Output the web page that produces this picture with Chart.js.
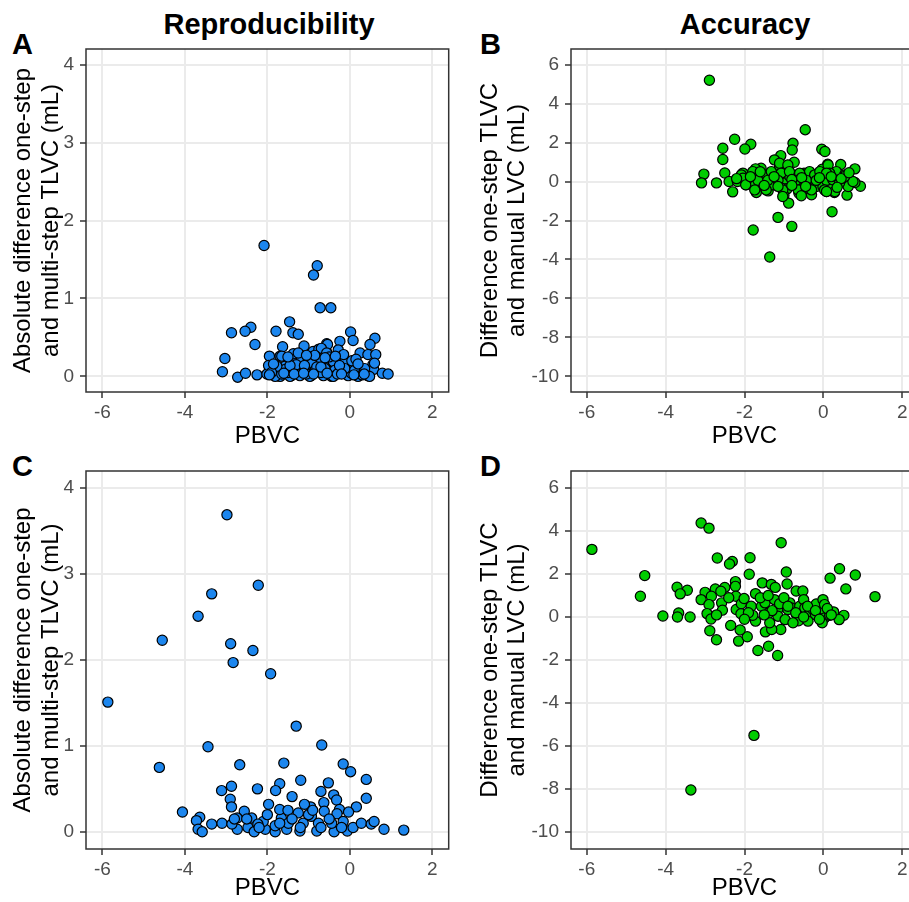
<!DOCTYPE html>
<html>
<head>
<meta charset="utf-8">
<script src="https://cdn.jsdelivr.net/npm/chart.js@4.4.0/dist/chart.umd.min.js"></script>
<style>
  html, body { margin: 0; padding: 0; background: #fff; overflow: hidden; width: 909px; height: 902px; }
  body { position: relative; font-family: "Liberation Sans", Arial, Helvetica, sans-serif; }
  canvas { position: absolute; }
  .lbl { position: absolute; font-weight: bold; font-size: 29px; line-height: 29px; color: #000; }
  .col { position: absolute; font-weight: bold; font-size: 29px; line-height: 29px; width: 300px; text-align: center; color: #000; }
</style>
</head>
<body>
<div class="col" style="left:119px; top:10px">Reproducibility</div>
<div class="col" style="left:595px; top:10px">Accuracy</div>
<div class="lbl" style="left:12px; top:30px">A</div>
<div class="lbl" style="left:480px; top:30px">B</div>
<div class="lbl" style="left:12px; top:452px">C</div>
<div class="lbl" style="left:480px; top:452px">D</div>

<canvas id="chartA" width="455" height="450" style="left:0px; top:0px"></canvas>
<canvas id="chartB" width="470" height="450" style="left:455px; top:0px"></canvas>
<canvas id="chartC" width="455" height="452" style="left:0px; top:450px"></canvas>
<canvas id="chartD" width="470" height="452" style="left:455px; top:450px"></canvas>

<script>
// shared axis stuff
const xTicks = [-6, -4, -2, 0, 2];
const absTicks = [0, 1, 2, 3, 4];
const diffTicks = [-10, -8, -6, -4, -2, 0, 2, 4, 6];
const xTitle = "PBVC";
const absTitle = ["Absolute difference one-step", "and multi-step TLVC (mL)"];
const diffTitle = ["Difference one-step TLVC", "and manual LVC (mL)"];

// A - reproducibility (top)
const aX = [-2.08, -0.79, -0.88, -0.72, -0.46, -1.46, -1.38, -1.25, -1.79, -2.40, -2.54, -2.87, -2.30, -3.03, -3.09,
  -2.72, -2.53, -2.25, -2.01, 0.02, 0.08, -0.24, -0.28, 0.61, 0.49, 0.25, 0.44, 0.63, 0.56, 0.58, 0.79, 0.93,
  -1.63, -1.11, -0.89, -0.75, -0.56, -0.56, -1.95, -1.69, -1.41, -1.97, -1.57, -1.18, -1.01, -0.80, -0.64, -0.44,
  -0.12, 0.12, 0.28, -1.73, -1.42, -1.21, -0.94, -0.64, -0.44, -0.04, 0.44, -1.17, -0.97, -0.20, 0.04,
  -0.54, -0.69, -1.37, -0.56, -0.40, 0.60, -1.65, -1.17, -0.93, -0.69,
  -1.57, -1.33, -1.09, -0.84, -0.60, -0.36, -0.12, 0.12, 0.36,
  -1.69, -1.45, -0.97, -0.40, 0.20, 0.48, -1.81, -1.65, -1.77,
  -1.90, -1.30, -1.05, -0.80, -0.30, 0.30, -0.50, -0.85, -1.25, -0.15, 0.05, 0.15, -1.50, -0.70,
  -1.85, -1.45, -1.10, -0.70, -0.25, 0.20, -1.95, -1.60, -1.35, -1.12, -0.88, -0.55, -0.20, 0.10, 0.35,
  -1.50, -1.05, -0.60, -0.35];
const aY = [1.68, 1.42, 1.30, 0.88, 0.88, 0.70, 0.56, 0.54, 0.58, 0.63, 0.58, 0.56, 0.41, 0.23, 0.06,
  -0.01, 0.04, 0.02, 0.03, 0.57, 0.46, 0.45, 0.34, 0.49, 0.41, 0.30, 0.28, 0.28, 0.15, 0.09, 0.04, 0.03,
  0.38, 0.39, 0.32, 0.35, 0.31, 0.42, 0.26, 0.26, 0.21, 0.14, 0.13, 0.17, 0.19, 0.21, 0.15, 0.19,
  0.19, 0.13, 0.06, 0.01, 0.01, 0.01, 0.01, 0.01, 0.00, 0.01, 0.01, 0.09, 0.06, 0.09, 0.04,
  0.41, 0.36, 0.29, 0.30, 0.19, 0.17, 0.26, 0.24, 0.17, 0.21,
  0.09, 0.08, 0.10, 0.08, 0.10, 0.08, 0.10, 0.08, 0.10,
  0.00, 0.00, 0.00, 0.00, 0.00, 0.00, 0.00, 0.03, 0.13,
  0.05, 0.15, 0.03, 0.12, 0.03, 0.02, 0.25, 0.27, 0.30, 0.28, 0.20, 0.22, 0.05, 0.05,
  0.16, 0.14, 0.14, 0.12, 0.14, 0.16, 0.02, 0.04, 0.03, 0.04, 0.03, 0.04, 0.03, 0.02, 0.03,
  0.25, 0.27, 0.24, 0.26];

// B - accuracy (top)
const bX = [-2.89, -0.46, -2.25, -1.84, -1.99, -2.55, -2.55, -0.77, -0.79, -0.04, 0.04, -1.08, -1.24, -0.74, -0.91,
  0.11, 0.44, 0.80, -0.03, -1.58, -1.72, -3.03, -3.09, -2.71, -2.50, -2.39, -2.30, -2.06, -2.02, -1.96, -1.74,
  -1.70, -1.40, -1.36, -1.17, -0.97, -0.92, -1.00, -0.88, -0.62, -0.30, 0.60, 0.28, 0.08, 0.22, -1.15, -1.78,
  -0.80, -1.36, 0.94, 0.80, 0.50, 0.29, -0.20, -0.49, -0.35, -0.63, -0.71, -0.47, -0.60, -0.22, 0.08, 0.33,
  0.54, 0.04, 0.31, -1.53, -1.32, -1.02, -1.66, -0.85, -1.11, -1.28, -0.39, -0.18, -0.01, 0.16, 0.63,
  -1.11, -0.90, 0.12, -2.04, -1.79, -1.53, -1.32, -1.07, -0.86, -0.60, -0.09, 0.16,
  -1.95, -1.66, -1.41, -1.15, -0.69, -0.43, -0.18, 0.08, 0.33,
  -1.74, -1.45, -1.03, -0.64, -0.30, 0.03, -1.03, -0.56,
  0.75, 0.24, 0.08, 0.54, 0.41, 0.29, 0.08, -2.18, -2.08, -2.04, -1.97,
  -1.85, -1.25, -0.80, -0.55, -0.10, 0.20, 0.45, 0.65, -1.50, -1.15, -0.80, -0.45, 0.35, -2.20, -1.60];
const bY = [5.20, 2.66, 2.17, 1.91, 1.67, 1.71, 1.13, 1.96, 1.62, 1.66, 1.54, 1.33, 1.11, 0.99, 0.82,
  0.89, 0.87, 0.65, 0.63, 0.68, 0.65, 0.38, -0.07, -0.07, 0.44, 0.00, -0.53, 0.31, 0.09, -0.17, -0.14,
  -0.56, -0.48, 0.38, 0.03, 0.14, -0.38, -0.72, -1.11, -0.60, -0.68, -0.70, -0.56, -0.51, -1.55, -1.84, -2.49,
  -2.30, -3.87, -0.24, -0.05, 0.00, 0.09, 0.09, 0.43, 0.51, 0.00, -0.17, -0.09, 0.34, 0.34, 0.34, 0.51,
  0.34, 0.00, 0.05, 0.09, 0.00, 0.43, 0.26, 0.26, 0.77, -0.17, -0.34, -0.26, -0.26, -0.17, -0.26,
  0.94, 0.85, 0.85, 0.43, 0.51, 0.34, 0.51, 0.43, 0.51, 0.43, 0.51, 0.43,
  0.06, 0.06, 0.06, 0.06, 0.06, 0.06, 0.06, 0.06, 0.06,
  -0.43, -0.43, -0.43, -0.43, -0.43, -0.43, -0.77, -0.73,
  0.00, 0.09, 0.43, 0.26, -0.08, -0.51, -0.51, 0.00, 0.34, 0.17, -0.17,
  0.25, 0.25, 0.10, 0.20, 0.20, 0.25, 0.15, 0.45, -0.20, -0.25, -0.20, -0.25, -0.30, 0.15, 0.50];

// C - reproducibility (bottom)
const cX = [-2.98, -2.22, -3.35, -3.68, -4.55, -2.89, -2.35, -2.83, -1.92, -5.87, -1.30, -3.44, -0.68, -4.62, -2.67,
  -1.60, -0.16, 0.02, -1.19, 0.40, -0.52, -1.70, -2.87, -2.24, -3.11, -1.80, -0.70, -1.40, -0.39, -0.32, 0.40,
  -2.90, -0.63, -1.97, -2.87, 0.16, -0.95, -1.10, -4.06, -3.64, -3.72, -2.56, -0.62, -0.25, -0.03, -0.31,
  -3.35, -3.10, -3.68, -3.58, -2.73, -2.47, -2.32, -2.05, -1.81, -1.53, -1.21, -0.80, -0.38, -0.06, 0.08,
  0.28, 0.52, 0.59, 0.83, 1.31, -2.73, -2.38, -2.10, -1.66, -1.70, -1.25, -0.93, -1.49, -1.13, -0.76,
  -0.44, -0.16, -1.81, -2.86, -2.23,
  -2.50, -2.00, -1.50, -1.00, -0.50, -2.20, -1.70, -1.20, -0.70, -0.20, -2.80, -1.40, -0.90];
const cY = [3.69, 2.87, 2.77, 2.51, 2.23, 2.19, 2.11, 1.97, 1.84, 1.51, 1.23, 0.99, 1.01, 0.75, 0.78,
  0.80, 0.79, 0.70, 0.60, 0.61, 0.57, 0.56, 0.53, 0.50, 0.48, 0.48, 0.47, 0.41, 0.43, 0.37, 0.39,
  0.38, 0.34, 0.32, 0.29, 0.29, 0.29, 0.32, 0.23, 0.17, 0.13, 0.24, 0.24, 0.26, 0.23, 0.21,
  0.09, 0.10, 0.03, 0.00, 0.03, 0.05, 0.00, 0.03, 0.00, 0.03, 0.01, 0.01, 0.00, 0.01, 0.05,
  0.10, 0.09, 0.12, 0.03, 0.02, 0.16, 0.16, 0.12, 0.16, 0.26, 0.22, 0.18, 0.10, 0.10, 0.10,
  0.10, 0.12, 0.07, 0.09, 0.09,
  0.15, 0.20, 0.25, 0.20, 0.15, 0.05, 0.10, 0.05, 0.05, 0.05, 0.15, 0.15, 0.25];

// D - accuracy (bottom)
const dX = [-5.87, -3.10, -2.90, -1.07, -2.69, -1.86, -2.31, -2.38, -4.53, -1.88, -0.94, 0.41, 0.81, 0.17, -4.64,
  1.31, 0.57, -4.07, -3.71, -3.45, -3.63, -3.67, -3.70, -3.38, -1.76, -3.36, -1.66, -1.39, -1.16, -2.15,
  -1.93, -2.11, -2.71, -2.88, -2.35, -1.47, -1.08, -1.31, -0.92, -1.55, -1.32, -1.22, -0.69, -0.52, -2.23,
  -2.23, -2.50, -2.74, -3.00, -3.10, -2.84, -2.90, -2.95, -2.85, -2.58, -2.56, -2.71, -2.22, -2.21, -2.08,
  -2.09, -2.01, -1.83, -1.72, -1.72, -1.79, -1.57, -1.48, -1.38, -1.24, -1.16, -1.11, -1.15, -0.97, -0.85,
  -0.81, -0.69, -0.60, -0.50, -0.47, -0.63, -0.38, -0.26, -0.18, -0.01, 0.03, -0.03, 0.03, -0.03, 0.26,
  0.52, 0.40, 0.16, -0.20, -0.90, -1.36, -0.77, -0.39,
  -1.60, -1.30, -1.00, -0.70, -0.40, -0.20, 0.10, -1.90, -2.40, -2.60, -1.40, -0.90, -0.50, -0.10, 0.20, -2.00, -1.50];
const dY = [3.15, 4.38, 4.14, 3.46, 2.75, 2.76, 2.59, 2.47, 1.93, 1.99, 2.10, 2.25, 1.96, 1.81, 0.97,
  0.95, 1.31, 0.05, 1.39, 1.25, 1.08, 0.19, 0.00, 0.00, -5.51, -8.05, -1.56, -1.36, -1.79, -1.12,
  -0.92, -0.60, -1.06, -0.64, -0.39, -0.69, -0.58, -0.58, 1.54, 1.59, 1.52, 1.38, 1.21, 1.21, 1.65,
  1.43, 1.38, 1.31, 1.15, 0.81, 0.97, 0.58, 0.16, -0.09, 0.66, 0.32, 0.10, 0.97, 0.35, 0.62,
  0.15, 0.86, 0.50, 1.09, -0.19, 0.08, 0.50, 0.66, 0.19, 0.81, 0.35, 0.62, 0.04, -0.12, 0.66,
  0.42, 0.15, 0.50, 0.81, 0.42, -0.17, 0.08, 0.35, 0.61, 0.81, 0.58, 0.16, -0.04, -0.27, 0.24,
  0.08, -0.12, 0.08, 0.11, 0.35, -0.27, -0.27, -0.19,
  0.90, 0.30, 0.90, 0.20, 0.50, 0.30, 0.40, 0.20, 0.90, 1.20, 1.00, 0.50, 0.00, -0.10, 0.10, -0.10, 0.10];

const blue = "#1C86EE";
const green = "#00CD00";
const fontFamily = "'Liberation Sans', Arial, Helvetica, sans-serif";

// ggplot style panel border on top of everything
const panelBorder = {
  id: "panelBorder",
  afterDatasetsDraw(chart) {
    const ctx = chart.ctx;
    const a = chart.chartArea;
    ctx.save();
    ctx.strokeStyle = "#333333";
    ctx.lineWidth = 1.5;
    ctx.strokeRect(a.left, a.top, a.right - a.left, a.bottom - a.top);
    ctx.restore();
  },
};

// box: canvas position + wanted plot area (page pixels)
function makePanel(id, xs, ys, colour, yTicks, yMin, yMax, yTitle, box) {
  const ctx = document.getElementById(id).getContext("2d");
  const points = xs.map((x, i) => ({ x: x, y: ys[i] }));
  const titleLine = 24 * 1.15;

  new Chart(ctx, {
    type: "scatter",
    data: {
      datasets: [{
        data: points,
        backgroundColor: colour,
        borderColor: "#000000",
        borderWidth: 1.2,
        pointRadius: 5.1,
        pointHoverRadius: 5.1,
      }],
    },
    options: {
      responsive: false,
      animation: false,
      events: [],
      layout: {
        padding: { left: 0, top: box.top - box.cy, right: box.cx + box.cw - box.right, bottom: 0 },
      },
      plugins: { legend: { display: false }, tooltip: { enabled: false } },
      scales: {
        x: {
          type: "linear",
          min: -6.4,
          max: 2.4,
          afterBuildTicks: (s) => { s.ticks = xTicks.map((v) => ({ value: v })); },
          afterFit: (s) => { s.height = box.cy + box.ch - box.bottom; },
          border: { display: false },
          grid: { color: "#EBEBEB", lineWidth: 2, tickColor: "#333333", tickWidth: 1.5, tickLength: 6 },
          ticks: { padding: 3, color: "#4D4D4D", font: { family: fontFamily, size: 19 }, callback: (v) => String(v) },
          title: {
            display: true, text: xTitle, color: "#000000",
            font: { family: fontFamily, size: 24, lineHeight: 1.15 },
            padding: { top: 0, bottom: box.cy + box.ch - titleLine / 2 - box.xTitleMid },
          },
        },
        y: {
          type: "linear",
          min: yMin,
          max: yMax,
          afterBuildTicks: (s) => { s.ticks = yTicks.map((v) => ({ value: v })); },
          afterFit: (s) => { s.width = box.left - box.cx; },
          border: { display: false },
          grid: { color: "#EBEBEB", lineWidth: 2, tickColor: "#333333", tickWidth: 1.5, tickLength: 6 },
          ticks: { padding: 6, color: "#4D4D4D", font: { family: fontFamily, size: 19 }, callback: (v) => String(v) },
          title: {
            display: true, text: yTitle, color: "#000000",
            font: { family: fontFamily, size: 24, lineHeight: 1.15 },
            padding: { top: box.yTitleMid - box.cx - titleLine / 2, bottom: 0 },
          },
        },
      },
    },
    plugins: [panelBorder],
  });
}

makePanel("chartA", aX, aY, blue, absTicks, -0.2, 4.2, absTitle,
  { cx: 0, cy: 0, cw: 455, ch: 450, left: 86, top: 49, right: 451, bottom: 392, yTitleMid: 23.5, xTitleMid: 436 });
makePanel("chartB", bX, bY, green, diffTicks, -10.8, 6.8, diffTitle,
  { cx: 455, cy: 0, cw: 470, ch: 450, left: 571, top: 49, right: 918, bottom: 392, yTitleMid: 490, xTitleMid: 436 });
makePanel("chartC", cX, cY, blue, absTicks, -0.2, 4.2, absTitle,
  { cx: 0, cy: 450, cw: 455, ch: 452, left: 86, top: 471, right: 451, bottom: 849, yTitleMid: 23.5, xTitleMid: 888 });
makePanel("chartD", dX, dY, green, diffTicks, -10.8, 6.8, diffTitle,
  { cx: 455, cy: 450, cw: 470, ch: 452, left: 571, top: 471, right: 918, bottom: 849, yTitleMid: 490, xTitleMid: 888 });
</script>
</body>
</html>
